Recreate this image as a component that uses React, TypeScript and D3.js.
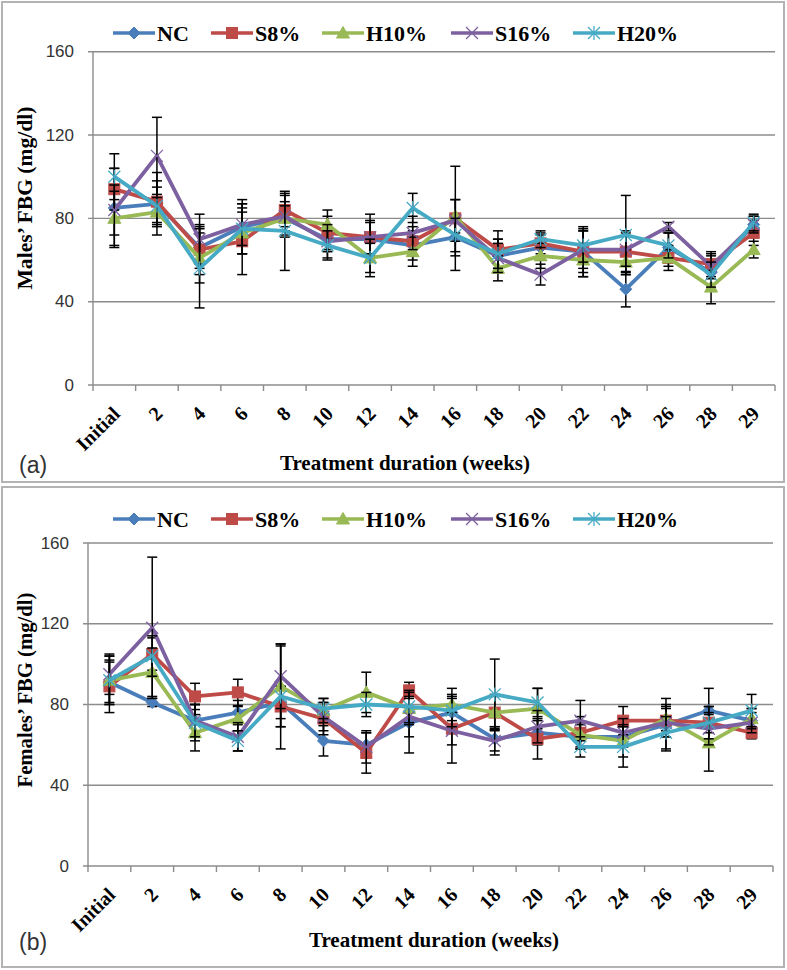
import React from "react";
import * as d3 from "d3";

const categories = ["Initial", "2", "4", "6", "8", "10", "12", "14", "16", "18", "20", "22", "24", "26", "28", "29"];
const seriesNames = ["NC", "S8%", "H10%", "S16%", "H20%"];
const yTicks = [0, 40, 80, 120, 160];

// Males (a)
const maleNC = [85, 87, 66, 76, 80, 70, 70, 67, 71, 62, 66, 64, 46, 66, 54, 77];
const maleS8 = [94, 88, 65, 69, 84, 73, 71, 69, 80, 65, 68, 64, 64, 61, 58, 73];
const maleH10 = [80, 83, 61, 73, 80, 77, 61, 64, 81, 56, 62, 60, 59, 61, 47, 65];
const maleS16 = [84, 110, 70, 77, 81, 69, 71, 73, 79, 61, 53, 65, 65, 76, 57, 77];
const maleH20 = [100, 86, 56, 75, 74, 67, 61, 85, 72, 63, 70, 67, 72, 67, 53, 78];

const maleErrNC = [19, 15, 10, 13, 8, 6, 8, 7, 9, 8, 6, 10, 8.5, 7, 8, 4];
const maleErrS8 = [10, 10, 12, 16, 8, 8, 11, 7, 25, 9, 5, 12, 10, 4, 6, 6];
const maleErrH10 = [13, 7, 12, 10, 6, 7, 7, 7, 8, 6, 6, 8, 6, 6, 8, 4];
const maleErrS16 = [12, 18.5, 12, 10, 10, 8, 8, 8, 10, 7, 5, 9, 8, 2, 6, 4];
const maleErrH20 = [11, 9, 19, 12, 19, 7, 9, 7, 8, 7, 4, 8, 19, 6, 6, 4];

// Females (b)
const femaleNC = [91, 81, 72, 76, 81, 62, 60, 71, 76, 63, 66, 64, 64, 70, 77, 72];
const femaleS8 = [89, 105, 84, 86, 79, 73, 56, 87, 68, 76, 63, 66, 72, 72, 71, 66];
const femaleH10 = [92, 96, 66, 73, 89, 77, 86, 78, 80, 76, 78, 65, 62, 73, 61, 73];
const femaleS16 = [95, 118, 72, 64, 94, 74, 59, 74, 67, 62, 69, 72, 66, 71, 68, 71];
const femaleH20 = [92, 104, 71, 62, 84, 78, 80, 79, 77, 85, 81, 59, 59, 66, 71, 77];

const femaleErrNC = [10, 2, 8, 6, 8, 7.5, 6, 15, 8, 6, 6, 6, 5, 13, 11, 6];
const femaleErrS8 = [13, 8, 6.5, 6.5, 10, 8, 10, 4, 8, 9, 10, 8, 7, 8, 8, 3];
const femaleErrH10 = [12, 12, 9, 6, 20, 6, 10, 8, 8, 8, 10, 6, 8, 6, 14, 5];
const femaleErrS16 = [10, 35, 8, 7, 16, 7, 8, 10, 16, 7, 8, 10, 7, 7, 8, 5];
const femaleErrH20 = [12, 10, 9, 5, 26, 5, 6, 8, 8, 17.5, 7, 5, 10, 8, 8, 8];

const colors = ["#4A7EBB", "#BE4B48", "#98B954", "#7D60A0", "#46AAC5"];
const markerTypes = ["diamond", "square", "triangle", "x", "star"];

const serif = "'Liberation Serif', 'Times New Roman', serif";
const sans = "'Liberation Sans', Arial, sans-serif";

function Marker({ type, x, y, color }: { type: string; x: number; y: number; color: string }) {
  const s = 6;
  if (type === "diamond") {
    return <path d={`M${x},${y - s} L${x + s},${y} L${x},${y + s} L${x - s},${y} Z`} fill={color} stroke={color} strokeWidth={1} />;
  }
  if (type === "square") {
    return <rect x={x - 5.5} y={y - 5.5} width={11} height={11} fill={color} stroke={color} strokeWidth={1} />;
  }
  if (type === "triangle") {
    return <path d={`M${x},${y - 6.5} L${x + 6.5},${y + 5} L${x - 6.5},${y + 5} Z`} fill={color} stroke={color} strokeWidth={1} />;
  }
  if (type === "x") {
    return (
      <g stroke={color} strokeWidth={1.3}>
        <line x1={x - 6} y1={y - 6} x2={x + 6} y2={y + 6} />
        <line x1={x - 6} y1={y + 6} x2={x + 6} y2={y - 6} />
      </g>
    );
  }
  return (
    <g stroke={color} strokeWidth={1.3}>
      <line x1={x - 6} y1={y - 6} x2={x + 6} y2={y + 6} />
      <line x1={x - 6} y1={y + 6} x2={x + 6} y2={y - 6} />
      <line x1={x} y1={y - 7} x2={x} y2={y + 7} />
    </g>
  );
}

type PanelProps = {
  top: number;
  bottom: number;
  x0: number;
  x1: number;
  yTop: number;
  yZero: number;
  values: number[][];
  errors: number[][];
  yTitle: string;
  yTitleY: number;
  yTitleLen: number;
  label: string;
  xTitleX: number;
  xTitleY: number;
  legendY: number;
};

function Panel(p: PanelProps) {
  const x = d3.scaleBand<string>().domain(categories).range([p.x0, p.x1]);
  const y = d3.scaleLinear().domain([0, 160]).range([p.yZero, p.yTop]);
  const cx = (c: string) => (x(c) as number) + x.bandwidth() / 2;
  const line = d3
    .line<number>()
    .x((_, i) => cx(categories[i]))
    .y((v) => y(v));
  const legendX = [113, 211, 322, 451, 573];
  const grid = "#8c8c8c";
  const boundaries = categories.map((c) => x(c) as number).concat([p.x1]);

  return (
    <g>
      <rect x={2} y={p.top} width={782} height={p.bottom - p.top} fill="#fff" stroke="#b3b3b3" strokeWidth={2} />
      {yTicks.map((t) => (
        <g key={t}>
          <line x1={p.x0 - 5} x2={p.x1} y1={y(t)} y2={y(t)} stroke={grid} strokeWidth={1.4} />
          <text x={p.x0 - 19} y={y(t)} textAnchor="end" dominantBaseline="central" fontFamily={sans} fontSize={17} fill="#333">
            {t}
          </text>
        </g>
      ))}
      <line x1={p.x0} x2={p.x0} y1={p.yTop} y2={p.yZero} stroke={grid} strokeWidth={1.4} />
      {boundaries.map((b, i) => (
        <line key={i} x1={b} x2={b} y1={p.yZero} y2={p.yZero + 6} stroke={grid} strokeWidth={1.4} />
      ))}
      {categories.map((c) => (
        <text
          key={c}
          transform={`translate(${cx(c) + 7},${p.yZero + 30}) rotate(-45)`}
          textAnchor="end"
          fontFamily={serif}
          fontWeight="bold"
          fontSize={20}
          fill="#000"
        >
          {c}
        </text>
      ))}
      {p.values.map((vals, si) => (
        <g key={si}>
          <path d={line(vals) || ""} fill="none" stroke={colors[si]} strokeWidth={3.8} strokeLinejoin="round" />
          {vals.map((v, i) => {
            const e = p.errors[si][i];
            const px = cx(categories[i]);
            return (
              <g key={i} stroke="#000" strokeWidth={1.5}>
                <line x1={px} x2={px} y1={y(v - e)} y2={y(v + e)} />
                <line x1={px - 5} x2={px + 5} y1={y(v - e)} y2={y(v - e)} />
                <line x1={px - 5} x2={px + 5} y1={y(v + e)} y2={y(v + e)} />
              </g>
            );
          })}
          {vals.map((v, i) => (
            <Marker key={i} type={markerTypes[si]} x={cx(categories[i])} y={y(v)} color={colors[si]} />
          ))}
        </g>
      ))}
      {seriesNames.map((n, i) => (
        <g key={n}>
          <line x1={legendX[i]} x2={legendX[i] + 42} y1={p.legendY} y2={p.legendY} stroke={colors[i]} strokeWidth={3.6} />
          <Marker type={markerTypes[i]} x={legendX[i] + 21} y={p.legendY} color={colors[i]} />
          <text x={legendX[i] + 44} y={p.legendY + 8} fontFamily={serif} fontWeight="bold" fontSize={22} fill="#000">
            {n}
          </text>
        </g>
      ))}
      <text
        transform={`translate(32,${p.yTitleY}) rotate(-90)`}
        textAnchor="middle"
        fontFamily={serif}
        fontWeight="bold"
        fontSize={20}
        textLength={p.yTitleLen}
        lengthAdjust="spacingAndGlyphs"
      >
        {p.yTitle}
      </text>
      <text x={p.xTitleX} y={p.xTitleY} textAnchor="middle" fontFamily={serif} fontWeight="bold" fontSize={21}>
        Treatment duration (weeks)
      </text>
      <text x={19} y={p.xTitleY + 3} fontFamily={sans} fontSize={23} fill="#333">
        {p.label}
      </text>
    </g>
  );
}

export default function App() {
  return (
    <svg width={787} height={970} style={{ position: "absolute", left: 0, top: 0, background: "#fff" }}>
      <Panel
        top={2}
        bottom={482}
        x0={93}
        x1={775}
        yTop={51.7}
        yZero={385}
        values={[maleNC, maleS8, maleH10, maleS16, maleH20]}
        errors={[maleErrNC, maleErrS8, maleErrH10, maleErrS16, maleErrH20]}
        yTitle="Males’ FBG (mg/dl)"
        yTitleY={198}
        yTitleLen={183}
        label="(a)"
        xTitleX={405}
        xTitleY={470}
        legendY={33}
      />
      <Panel
        top={487}
        bottom={967}
        x0={88}
        x1={773}
        yTop={543}
        yZero={866}
        values={[femaleNC, femaleS8, femaleH10, femaleS16, femaleH20]}
        errors={[femaleErrNC, femaleErrS8, femaleErrH10, femaleErrS16, femaleErrH20]}
        yTitle="Females’ FBG (mg/dl)"
        yTitleY={690}
        yTitleLen={195}
        label="(b)"
        xTitleX={434}
        xTitleY={947}
        legendY={519}
      />
    </svg>
  );
}
